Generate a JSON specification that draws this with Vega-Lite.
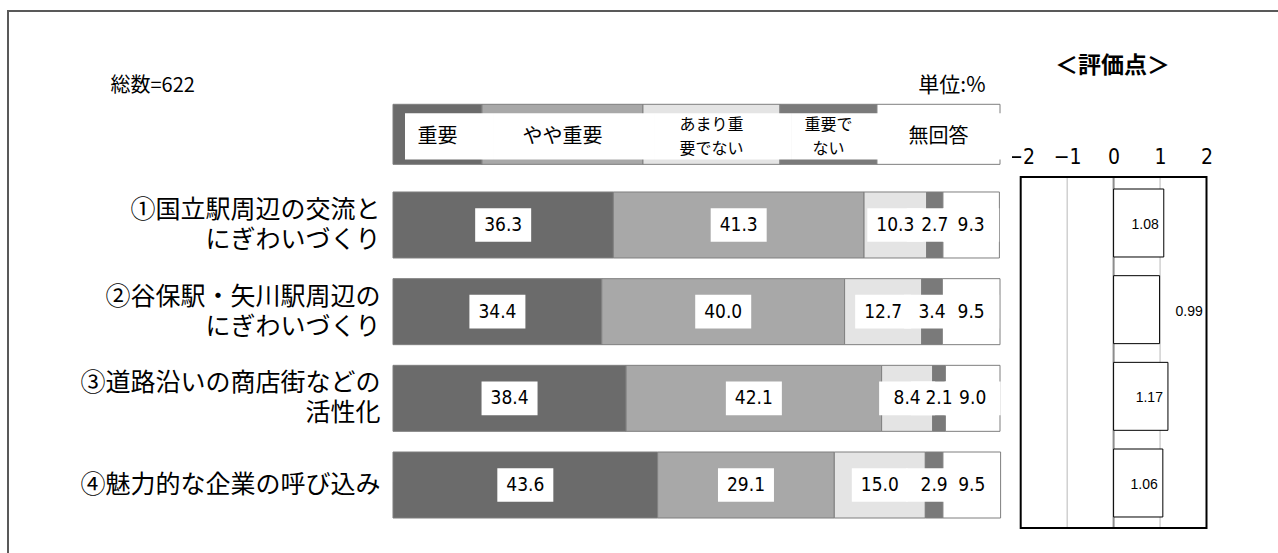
{
  "$schema": "https://vega.github.io/schema/vega-lite/v6.json",
  "width": 1300,
  "height": 560,
  "autosize": "none",
  "padding": {"left": 8, "top": 11, "right": 0, "bottom": 0},
  "background": "white",
  "config": {
    "view": {"stroke": "#595959", "strokeWidth": 2},
    "font": "Noto Sans CJK JP"
  },
  "datasets": {
    "shares": [
      {"item": "①国立駅周辺の交流と\nにぎわいづくり", "cat": "重要", "pct": 36.3},
      {"item": "①国立駅周辺の交流と\nにぎわいづくり", "cat": "やや重要", "pct": 41.3},
      {"item": "①国立駅周辺の交流と\nにぎわいづくり", "cat": "あまり重要でない", "pct": 10.3},
      {"item": "①国立駅周辺の交流と\nにぎわいづくり", "cat": "重要でない", "pct": 2.7},
      {"item": "①国立駅周辺の交流と\nにぎわいづくり", "cat": "無回答", "pct": 9.3},
      {"item": "②谷保駅・矢川駅周辺の\nにぎわいづくり", "cat": "重要", "pct": 34.4},
      {"item": "②谷保駅・矢川駅周辺の\nにぎわいづくり", "cat": "やや重要", "pct": 40.0},
      {"item": "②谷保駅・矢川駅周辺の\nにぎわいづくり", "cat": "あまり重要でない", "pct": 12.7},
      {"item": "②谷保駅・矢川駅周辺の\nにぎわいづくり", "cat": "重要でない", "pct": 3.4},
      {"item": "②谷保駅・矢川駅周辺の\nにぎわいづくり", "cat": "無回答", "pct": 9.5},
      {"item": "③道路沿いの商店街などの\n活性化", "cat": "重要", "pct": 38.4},
      {"item": "③道路沿いの商店街などの\n活性化", "cat": "やや重要", "pct": 42.1},
      {"item": "③道路沿いの商店街などの\n活性化", "cat": "あまり重要でない", "pct": 8.4},
      {"item": "③道路沿いの商店街などの\n活性化", "cat": "重要でない", "pct": 2.1},
      {"item": "③道路沿いの商店街などの\n活性化", "cat": "無回答", "pct": 9.0},
      {"item": "④魅力的な企業の呼び込み", "cat": "重要", "pct": 43.6},
      {"item": "④魅力的な企業の呼び込み", "cat": "やや重要", "pct": 29.1},
      {"item": "④魅力的な企業の呼び込み", "cat": "あまり重要でない", "pct": 15.0},
      {"item": "④魅力的な企業の呼び込み", "cat": "重要でない", "pct": 2.9},
      {"item": "④魅力的な企業の呼び込み", "cat": "無回答", "pct": 9.5}
    ],
    "legend": [
      {"item": "凡例", "cat": "重要", "span": 14.66, "label": "重要"},
      {"item": "凡例", "cat": "やや重要", "span": 26.52, "label": "やや重要"},
      {"item": "凡例", "cat": "あまり重要でない", "span": 22.57, "label": "あまり重\n要でない"},
      {"item": "凡例", "cat": "重要でない", "span": 15.98, "label": "重要で\nない"},
      {"item": "凡例", "cat": "無回答", "span": 20.27, "label": "無回答"}
    ],
    "scores": [
      {"item": "①国立駅周辺の交流と\nにぎわいづくり", "score": 1.08},
      {"item": "②谷保駅・矢川駅周辺の\nにぎわいづくり", "score": 0.99},
      {"item": "③道路沿いの商店街などの\n活性化", "score": 1.17},
      {"item": "④魅力的な企業の呼び込み", "score": 1.06}
    ],
    "grid": [{"tick": -1}, {"tick": 0}, {"tick": 1}],
    "frame": [{"panel": "評価点"}]
  },
  "resolve": {"scale": {"x": "independent", "y": "independent"}},
  "layer": [
    {
      "resolve": {"scale": {"color": "independent"}},
      "layer": [
        {
          "data": {"name": "legend"},
          "transform": [{"window": [{"op": "row_number", "as": "rank"}], "groupby": ["item"]}],
          "mark": {"type": "bar", "stroke": "#7f7f7f", "strokeWidth": 1, "height": {"band": 0.91}, "yOffset": -4},
          "encoding": {
            "y": {
              "field": "item", "type": "nominal",
              "scale": {"type": "band", "domain": ["凡例", "①国立駅周辺の交流と\nにぎわいづくり", "②谷保駅・矢川駅周辺の\nにぎわいづくり", "③道路沿いの商店街などの\n活性化", "④魅力的な企業の呼び込み"], "range": [94.33, 507], "paddingInner": 0.2385, "paddingOuter": 0},
              "axis": {
                "orient": "left", "offset": -385, "domain": false, "ticks": false, "labelPadding": 13, "labelLimit": 0,
                "labelExpr": "datum.value == '凡例' ? '' : split(datum.value, '\\n')",
                "labelOffset": {"condition": {"test": "indexof(datum.value, '\\n') >= 0", "value": -15}, "value": 0},
                "labelFontSize": 25, "labelLineHeight": 30, "labelColor": "black", "labelFont": "Noto Sans CJK JP",
                "title": "総数=622", "titleAngle": 0, "titleAlign": "left", "titleBaseline": "middle",
                "titleX": -283, "titleY": 74, "titleFontSize": 20, "titleFontWeight": "normal", "titleColor": "black", "titleFont": "Noto Sans CJK JP"
              }
            },
            "x": {
              "field": "span", "type": "quantitative", "stack": "zero",
              "scale": {"domain": [0, 100], "range": [385, 992]},
              "axis": {
                "orient": "top", "labels": false, "ticks": false, "domain": false, "grid": false,
                "title": "単位:%", "titleX": 977, "titleY": 74, "titleAlign": "right", "titleBaseline": "middle",
                "titleFontSize": 21, "titleFontWeight": "normal", "titleColor": "black", "titleFont": "Noto Sans CJK JP"
              }
            },
            "order": {"field": "rank", "type": "quantitative"},
            "color": {
              "field": "cat", "type": "nominal",
              "scale": {"domain": ["重要", "やや重要", "あまり重要でない", "重要でない", "無回答"], "range": ["#6b6b6b", "#a8a8a8", "#e4e4e4", "#7a7a7a", "#ffffff"]},
              "legend": null
            }
          }
        },
        {
          "data": {"name": "shares"},
          "transform": [{"window": [{"op": "row_number", "as": "rank"}], "groupby": ["item"]}],
          "mark": {"type": "bar", "stroke": "#7f7f7f", "strokeWidth": 1},
          "encoding": {
            "y": {"field": "item", "type": "nominal"},
            "x": {"field": "pct", "type": "quantitative", "stack": "zero", "scale": {"domain": [0, 100], "range": [385, 992]}},
            "order": {"field": "rank", "type": "quantitative"},
            "color": {
              "field": "cat", "type": "nominal",
              "scale": {"domain": ["重要", "やや重要", "あまり重要でない", "重要でない", "無回答"], "range": ["#6b6b6b", "#a8a8a8", "#e4e4e4", "#7a7a7a", "#ffffff"]},
              "legend": null
            }
          }
        },
        {
          "data": {"name": "legend"},
          "transform": [{"window": [{"op": "row_number", "as": "rank"}], "groupby": ["item"]}],
          "mark": {"type": "bar", "xOffset": 12, "x2Offset": -12, "height": {"band": 0.7}, "yOffset": -2},
          "encoding": {
            "y": {"field": "item", "type": "nominal"},
            "x": {"field": "span", "type": "quantitative", "stack": "zero", "scale": {"domain": [0, 100], "range": [385, 992]}},
            "order": {"field": "rank", "type": "quantitative"},
            "color": {
              "field": "cat", "type": "nominal",
              "scale": {"domain": ["重要", "やや重要", "あまり重要でない", "重要でない", "無回答"], "range": ["#ffffff", "#ffffff", "#ffffff", "#ffffff", "#ffffff"]},
              "legend": null
            }
          }
        },
        {
          "data": {"name": "legend"},
          "transform": [{"window": [{"op": "row_number", "as": "rank"}], "groupby": ["item"]}],
          "mark": {"type": "text", "fontSize": 20, "baseline": "middle", "dy": -1, "font": "Noto Sans CJK JP"},
          "encoding": {
            "y": {"field": "item", "type": "nominal"},
            "x": {"field": "span", "type": "quantitative", "stack": "zero", "bandPosition": 0.5, "scale": {"domain": [0, 100], "range": [385, 992]}},
            "order": {"field": "rank", "type": "quantitative"},
            "text": {"condition": {"test": "indexof(datum.label, '\\n') >= 0", "value": ""}, "field": "label"},
            "color": {
              "field": "cat", "type": "nominal",
              "scale": {"domain": ["重要", "やや重要", "あまり重要でない", "重要でない", "無回答"], "range": ["#000000", "#000000", "#000000", "#000000", "#000000"]},
              "legend": null
            }
          }
        },
        {
          "data": {"name": "legend"},
          "transform": [{"window": [{"op": "row_number", "as": "rank"}], "groupby": ["item"]}],
          "mark": {"type": "text", "fontSize": 16, "baseline": "middle", "lineBreak": "\n", "lineHeight": 24, "dy": -13, "font": "Noto Sans CJK JP"},
          "encoding": {
            "y": {"field": "item", "type": "nominal"},
            "x": {"field": "span", "type": "quantitative", "stack": "zero", "bandPosition": 0.5, "scale": {"domain": [0, 100], "range": [385, 992]}},
            "order": {"field": "rank", "type": "quantitative"},
            "text": {"condition": {"test": "indexof(datum.label, '\\n') < 0", "value": ""}, "field": "label"},
            "color": {
              "field": "cat", "type": "nominal",
              "scale": {"domain": ["重要", "やや重要", "あまり重要でない", "重要でない", "無回答"], "range": ["#000000", "#000000", "#000000", "#000000", "#000000"]},
              "legend": null
            }
          }
        },
        {
          "data": {"name": "shares"},
          "transform": [{"window": [{"op": "row_number", "as": "rank"}], "groupby": ["item"]}],
          "mark": {"type": "point", "shape": "M-1,-0.6L1,-0.6L1,0.6L-1,0.6Z", "size": 3136, "filled": true, "opacity": 1, "strokeWidth": 0},
          "encoding": {
            "y": {"field": "item", "type": "nominal"},
            "x": {"field": "pct", "type": "quantitative", "stack": "zero", "bandPosition": 0.5, "scale": {"domain": [0, 100], "range": [385, 992]}},
            "order": {"field": "rank", "type": "quantitative"},
            "color": {
              "field": "cat", "type": "nominal",
              "scale": {"domain": ["重要", "やや重要", "あまり重要でない", "重要でない", "無回答"], "range": ["#ffffff", "#ffffff", "#ffffff", "#ffffff", "#ffffff"]},
              "legend": null
            }
          }
        },
        {
          "data": {"name": "shares"},
          "transform": [{"window": [{"op": "row_number", "as": "rank"}], "groupby": ["item"]}],
          "mark": {"type": "text", "fontSize": 19, "baseline": "middle", "font": "'DejaVu Sans Condensed', 'Liberation Sans Narrow', 'Noto Sans CJK JP', sans-serif"},
          "encoding": {
            "y": {"field": "item", "type": "nominal"},
            "x": {"field": "pct", "type": "quantitative", "stack": "zero", "bandPosition": 0.5, "scale": {"domain": [0, 100], "range": [385, 992]}},
            "order": {"field": "rank", "type": "quantitative"},
            "text": {"field": "pct", "type": "quantitative", "format": ".1f"},
            "color": {
              "field": "cat", "type": "nominal",
              "scale": {"domain": ["重要", "やや重要", "あまり重要でない", "重要でない", "無回答"], "range": ["#000000", "#000000", "#000000", "#000000", "#000000"]},
              "legend": null
            }
          }
        }
      ]
    },
    {
      "data": {"name": "grid"},
      "mark": {"type": "rule"},
      "encoding": {
        "x": {"field": "tick", "type": "quantitative", "scale": {"domain": [-2, 2], "range": [1012.7, 1198.5]}, "axis": null},
        "y": {"datum": 0, "type": "quantitative", "scale": {"domain": [0, 1], "range": [166, 517]}, "axis": null},
        "y2": {"datum": 1},
        "color": {"condition": {"test": "datum.tick == 0", "value": "#8c8c8c"}, "value": "#b8b8b8"},
        "strokeWidth": {"condition": {"test": "datum.tick == 0", "value": 2}, "value": 1}
      }
    },
    {
      "data": {"name": "scores"},
      "layer": [
        {
          "mark": {"type": "bar", "fill": "white", "stroke": "black", "strokeWidth": 1, "height": {"band": 1.03}, "yOffset": -2},
          "encoding": {
            "x": {
              "field": "score", "type": "quantitative",
              "scale": {"domain": [-2, 2], "range": [1012.7, 1198.5]},
              "axis": {
                "orient": "top", "offset": -152, "values": [-2, -1, 0, 1, 2], "format": "d",
                "domain": false, "ticks": false, "grid": false, "labelPadding": 0, "labelBaseline": "alphabetic",
                "labelFontSize": 21, "labelColor": "black", "labelFlush": false, "labelOverlap": false,
                "labelFont": "'DejaVu Sans Condensed', 'Liberation Sans Narrow', 'Noto Sans CJK JP', sans-serif",
                "title": "＜評価点＞", "titleX": 1104, "titleY": -98, "titleAlign": "center", "titleBaseline": "middle",
                "titleFontSize": 23, "titleFontWeight": "bold", "titleColor": "black", "titleFont": "Noto Sans CJK JP"
              }
            },
            "y": {
              "field": "item", "type": "nominal",
              "scale": {"type": "band", "domain": ["凡例", "①国立駅周辺の交流と\nにぎわいづくり", "②谷保駅・矢川駅周辺の\nにぎわいづくり", "③道路沿いの商店街などの\n活性化", "④魅力的な企業の呼び込み"], "range": [94.33, 507], "paddingInner": 0.2385, "paddingOuter": 0},
              "axis": null
            }
          }
        },
        {
          "transform": [{"filter": "datum.score >= 1"}],
          "mark": {"type": "text", "align": "right", "baseline": "middle", "dx": -5, "fontSize": 14, "font": "Liberation Sans", "color": "black"},
          "encoding": {
            "x": {"field": "score", "type": "quantitative"},
            "y": {"field": "item", "type": "nominal"},
            "text": {"field": "score", "type": "quantitative", "format": ".2f"}
          }
        },
        {
          "transform": [{"filter": "datum.score < 1"}],
          "mark": {"type": "text", "align": "left", "baseline": "middle", "dx": 16, "fontSize": 14, "font": "Liberation Sans", "color": "black"},
          "encoding": {
            "x": {"field": "score", "type": "quantitative"},
            "y": {"field": "item", "type": "nominal"},
            "text": {"field": "score", "type": "quantitative", "format": ".2f"}
          }
        }
      ]
    },
    {
      "data": {"name": "frame"},
      "mark": {"type": "rect", "fillOpacity": 0, "stroke": "black", "strokeWidth": 2},
      "encoding": {
        "x": {"datum": -2, "type": "quantitative", "scale": {"domain": [-2, 2], "range": [1012.7, 1198.5]}, "axis": null},
        "x2": {"datum": 2},
        "y": {"datum": 0, "type": "quantitative", "scale": {"domain": [0, 1], "range": [166, 517]}, "axis": null},
        "y2": {"datum": 1}
      }
    }
  ]
}
